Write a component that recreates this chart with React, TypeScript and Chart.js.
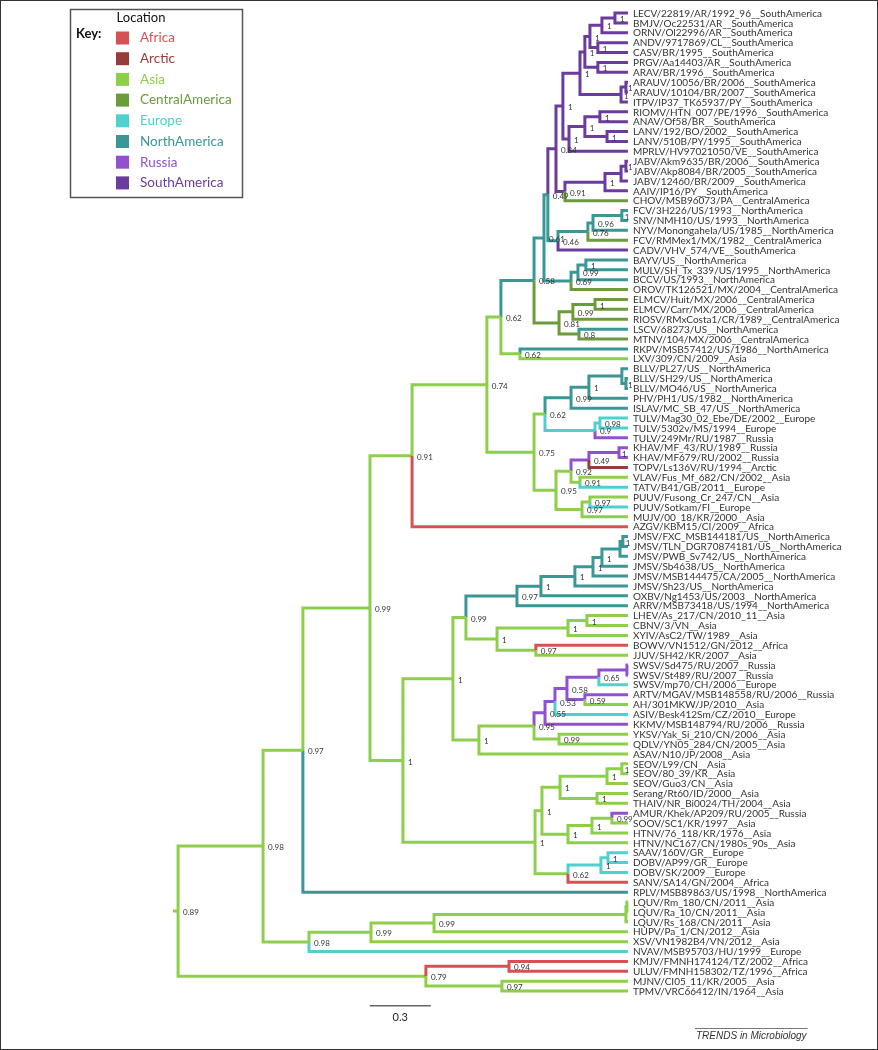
import React, { useEffect, useRef } from "react";
import { Chart, registerables } from "chart.js";
Chart.register(...registerables);

// Regions (legend) and their colours
const regions = ["Africa", "Arctic", "Asia", "CentralAmerica", "Europe", "NorthAmerica", "Russia", "SouthAmerica"];
const regionColors = ["#d65252", "#9a3b3b", "#8dcf4b", "#6b9b3b", "#4fcfcf", "#3b9696", "#9150d0", "#6b3b9e"];

// Tip labels, top to bottom (region after "__")
const leafNames = [
  "LECV/22819/AR/1992_96__SouthAmerica",
  "BMJV/Oc22531/AR__SouthAmerica",
  "ORNV/Ol22996/AR__SouthAmerica",
  "ANDV/9717869/CL__SouthAmerica",
  "CASV/BR/1995__SouthAmerica",
  "PRGV/Aa14403/AR__SouthAmerica",
  "ARAV/BR/1996__SouthAmerica",
  "ARAUV/10056/BR/2006__SouthAmerica",
  "ARAUV/10104/BR/2007__SouthAmerica",
  "ITPV/IP37_TK65937/PY__SouthAmerica",
  "RIOMV/HTN_007/PE/1996__SouthAmerica",
  "ANAV/Of58/BR__SouthAmerica",
  "LANV/192/BO/2002__SouthAmerica",
  "LANV/510B/PY/1995__SouthAmerica",
  "MPRLV/HV97021050/VE__SouthAmerica",
  "JABV/Akm9635/BR/2006__SouthAmerica",
  "JABV/Akp8084/BR/2005__SouthAmerica",
  "JABV/12460/BR/2009__SouthAmerica",
  "AAIV/IP16/PY__SouthAmerica",
  "CHOV/MSB96073/PA__CentralAmerica",
  "FCV/3H226/US/1993__NorthAmerica",
  "SNV/NMH10/US/1993__NorthAmerica",
  "NYV/Monongahela/US/1985__NorthAmerica",
  "FCV/RMMex1/MX/1982__CentralAmerica",
  "CADV/VHV_574/VE__SouthAmerica",
  "BAYV/US__NorthAmerica",
  "MULV/SH_Tx_339/US/1995__NorthAmerica",
  "BCCV/US/1993__NorthAmerica",
  "OROV/TK126521/MX/2004__CentralAmerica",
  "ELMCV/Huit/MX/2006__CentralAmerica",
  "ELMCV/Carr/MX/2006__CentralAmerica",
  "RIOSV/RMxCosta1/CR/1989__CentralAmerica",
  "LSCV/68273/US__NorthAmerica",
  "MTNV/104/MX/2006__CentralAmerica",
  "RKPV/MSB57412/US/1986__NorthAmerica",
  "LXV/309/CN/2009__Asia",
  "BLLV/PL27/US__NorthAmerica",
  "BLLV/SH29/US__NorthAmerica",
  "BLLV/MO46/US__NorthAmerica",
  "PHV/PH1/US/1982__NorthAmerica",
  "ISLAV/MC_SB_47/US__NorthAmerica",
  "TULV/Mag30_02_Ebe/DE/2002__Europe",
  "TULV/5302v/MS/1994__Europe",
  "TULV/249Mr/RU/1987__Russia",
  "KHAV/MF_43/RU/1989__Russia",
  "KHAV/MF679/RU/2002__Russia",
  "TOPV/Ls136V/RU/1994__Arctic",
  "VLAV/Fus_Mf_682/CN/2002__Asia",
  "TATV/B41/GB/2011__Europe",
  "PUUV/Fusong_Cr_247/CN__Asia",
  "PUUV/Sotkam/FI__Europe",
  "MUJV/00_18/KR/2000__Asia",
  "AZGV/KBM15/CI/2009__Africa",
  "JMSV/FXC_MSB144181/US__NorthAmerica",
  "JMSV/TLN_DGR70874181/US__NorthAmerica",
  "JMSV/PWB_Sv742/US__NorthAmerica",
  "JMSV/Sb4638/US__NorthAmerica",
  "JMSV/MSB144475/CA/2005__NorthAmerica",
  "JMSV/Sh23/US__NorthAmerica",
  "OXBV/Ng1453/US/2003__NorthAmerica",
  "ARRV/MSB73418/US/1994__NorthAmerica",
  "LHEV/As_217/CN/2010_11__Asia",
  "CBNV/3/VN__Asia",
  "XYIV/AsC2/TW/1989__Asia",
  "BOWV/VN1512/GN/2012__Africa",
  "JJUV/SH42/KR/2007__Asia",
  "SWSV/Sd475/RU/2007__Russia",
  "SWSV/St489/RU/2007__Russia",
  "SWSV/mp70/CH/2006__Europe",
  "ARTV/MGAV/MSB148558/RU/2006__Russia",
  "AH/301MKW/JP/2010__Asia",
  "ASIV/Besk412Sm/CZ/2010__Europe",
  "KKMV/MSB148794/RU/2006__Russia",
  "YKSV/Yak_Si_210/CN/2006__Asia",
  "QDLV/YN05_284/CN/2005__Asia",
  "ASAV/N10/JP/2008__Asia",
  "SEOV/L99/CN__Asia",
  "SEOV/80_39/KR__Asia",
  "SEOV/Guo3/CN__Asia",
  "Serang/Rt60/ID/2000__Asia",
  "THAIV/NR_Bi0024/TH/2004__Asia",
  "AMUR/Khek/AP209/RU/2005__Russia",
  "SOOV/SC1/KR/1997__Asia",
  "HTNV/76_118/KR/1976__Asia",
  "HTNV/NC167/CN/1980s_90s__Asia",
  "SAAV/160V/GR__Europe",
  "DOBV/AP99/GR__Europe",
  "DOBV/SK/2009__Europe",
  "SANV/SA14/GN/2004__Africa",
  "RPLV/MSB89863/US/1998__NorthAmerica",
  "LQUV/Rm_180/CN/2011__Asia",
  "LQUV/Ra_10/CN/2011__Asia",
  "LQUV/Rs_168/CN/2011__Asia",
  "HUPV/Pa_1/CN/2012__Asia",
  "XSV/VN1982B4/VN/2012__Asia",
  "NVAV/MSB95703/HU/1999__Europe",
  "KMJV/FMNH174124/TZ/2002__Africa",
  "ULUV/FMNH158302/TZ/1996__Africa",
  "MJNV/CI05_11/KR/2005__Asia",
  "TPMV/VRC66412/IN/1964__Asia",
];

// Internal nodes: [id, child 1, child 2, height above tips (subst./site), posterior support, inferred location]
// numeric children are tip indexes
type Kid = string | number;
const nodes: [string, Kid, Kid, number, string, string][] = [
  ["S1", 0, 1, 0.064, "1", "SouthAmerica"],
  ["S2", "S1", 2, 0.128, "1", "SouthAmerica"],
  ["S3", 3, 4, 0.148, "1", "SouthAmerica"],
  ["S4", "S2", "S3", 0.187, "1", "SouthAmerica"],
  ["S5", 5, 6, 0.148, "1", "SouthAmerica"],
  ["S6", "S4", "S5", 0.212, "1", "SouthAmerica"],
  ["S7", 7, 8, 0.01, "1", "SouthAmerica"],
  ["S8", "S7", 9, 0.034, "1", "SouthAmerica"],
  ["S9", "S6", "S8", 0.236, "1", "SouthAmerica"],
  ["S10", 10, 11, 0.138, "1", "SouthAmerica"],
  ["S11", 12, 13, 0.103, "1", "SouthAmerica"],
  ["S12", "S10", "S11", 0.212, "1", "SouthAmerica"],
  ["S13", "S12", 14, 0.29, "1", "SouthAmerica"],
  ["S14", "S9", "S13", 0.32, "1", "SouthAmerica"],
  ["J1", 15, 16, 0.01, "1", "SouthAmerica"],
  ["J2", "J1", 17, 0.034, "", "SouthAmerica"],
  ["J3", "J2", 18, 0.113, "1", "SouthAmerica"],
  ["N91", "J3", 19, 0.31, "0.91", "SouthAmerica"],
  ["N84", "S14", "N91", 0.354, "0.84", "SouthAmerica"],
  ["F1", 20, 21, 0.03, "1", "NorthAmerica"],
  ["N96", "F1", 22, 0.172, "0.96", "NorthAmerica"],
  ["N76", "N96", 23, 0.197, "0.76", "NorthAmerica"],
  ["N46", "N76", 24, 0.344, "0.46", "NorthAmerica"],
  ["N49", "N84", "N46", 0.394, "0.49", "NorthAmerica"],
  ["B1", 25, 26, 0.207, "1", "NorthAmerica"],
  ["N99b", "B1", 27, 0.246, "0.99", "NorthAmerica"],
  ["N69", "N99b", 28, 0.28, "0.69", "NorthAmerica"],
  ["N61", "N49", "N69", 0.413, "0.61", "NorthAmerica"],
  ["E1", 29, 30, 0.162, "1", "CentralAmerica"],
  ["N99c", "E1", 31, 0.271, "0.99", "CentralAmerica"],
  ["N80", 32, 33, 0.241, "0.8", "CentralAmerica"],
  ["N81", "N99c", "N80", 0.339, "0.81", "CentralAmerica"],
  ["N58", "N61", "N81", 0.462, "0.58", "NorthAmerica"],
  ["N62b", 34, 35, 0.531, "0.62", "Asia"],
  ["N62a", "N58", "N62b", 0.625, "0.62", "Asia"],
  ["BC", 37, 38, 0.01, "1", "NorthAmerica"],
  ["BB", 36, "BC", 0.03, "", "NorthAmerica"],
  ["BA", "BB", 39, 0.192, "1", "NorthAmerica"],
  ["AY", "BA", 40, 0.28, "0.99", "NorthAmerica"],
  ["BD", 41, 42, 0.138, "0.98", "Europe"],
  ["AZ", "BD", 43, 0.162, "0.9", "Europe"],
  ["AW", "AY", "AZ", 0.408, "0.62", "Asia"],
  ["BI", 44, 45, 0.044, "1", "Russia"],
  ["BG", "BI", 46, 0.192, "0.49", "Russia"],
  ["BH", 47, 48, 0.236, "0.91", "Asia"],
  ["BE", "BG", "BH", 0.28, "0.92", "Asia"],
  ["PU", 49, 50, 0.187, "0.97", "Asia"],
  ["BF", "PU", 51, 0.226, "0.97", "Asia"],
  ["AX", "BE", "BF", 0.354, "0.95", "Asia"],
  ["AT", "AW", "AX", 0.462, "0.75", "Asia"],
  ["AR", "N62a", "AT", 0.694, "0.74", "Asia"],
  ["G", "AR", 52, 1.062, "0.91", "Asia"],
  ["JM1", 53, 54, 0.025, "1", "NorthAmerica"],
  ["JM2", "JM1", 55, 0.039, "", "NorthAmerica"],
  ["JM3", "JM2", 56, 0.128, "1", "NorthAmerica"],
  ["JM4", "JM3", 57, 0.172, "1", "NorthAmerica"],
  ["JM5", "JM4", 58, 0.261, "1", "NorthAmerica"],
  ["JM6", "JM5", 59, 0.428, "1", "NorthAmerica"],
  ["X", "JM6", 60, 0.546, "0.97", "NorthAmerica"],
  ["AI", 61, 62, 0.202, "1", "Asia"],
  ["AG", "AI", 63, 0.295, "1", "Asia"],
  ["AH", 64, 65, 0.453, "0.97", "Asia"],
  ["Y", "AG", "AH", 0.644, "1", "Asia"],
  ["W", "X", "Y", 0.797, "0.99", "Asia"],
  ["SW1", 66, 67, 0.005, "", "Russia"],
  ["AN", "SW1", 68, 0.143, "0.65", "Russia"],
  ["AP", 69, 70, 0.212, "0.59", "Russia"],
  ["AO", "AN", "AP", 0.3, "0.58", "Russia"],
  ["Q53", "AO", 71, 0.359, "0.53", "Russia"],
  ["Q55", "Q53", 72, 0.408, "0.55", "Russia"],
  ["AL", 73, 74, 0.339, "0.99", "Asia"],
  ["AJ", "Q55", "AL", 0.462, "0.95", "Asia"],
  ["V", "AJ", 75, 0.733, "1", "Asia"],
  ["U", "W", "V", 0.861, "1", "Asia"],
  ["SE1", 76, 77, 0.03, "1", "Asia"],
  ["SE2", "SE1", 78, 0.103, "1", "Asia"],
  ["P", 79, 80, 0.152, "1", "Asia"],
  ["M", "SE2", "P", 0.334, "1", "Asia"],
  ["R", 81, 82, 0.079, "0.99", "Asia"],
  ["Qn", "R", 83, 0.177, "1", "Asia"],
  ["Nn", "Qn", 84, 0.295, "1", "Asia"],
  ["K", "M", "Nn", 0.423, "1", "Asia"],
  ["T", 85, 86, 0.098, "1", "Europe"],
  ["S", "T", 87, 0.133, "1", "Europe"],
  ["L", "S", 88, 0.295, "0.62", "Asia"],
  ["J", "K", "L", 0.457, "1", "Asia"],
  ["H", "U", "J", 1.107, "1", "Asia"],
  ["F", "G", "H", 1.269, "0.99", "Asia"],
  ["B", "F", 89, 1.599, "0.97", "Asia"],
  ["LQ1", 90, 91, 0.005, "", "Asia"],
  ["LQ2", "LQ1", 92, 0.01, "", "Asia"],
  ["E", "LQ2", 93, 0.954, "0.99", "Asia"],
  ["D", "E", 94, 1.264, "0.99", "Asia"],
  ["C", "D", 95, 1.569, "0.98", "Asia"],
  ["A", "B", "C", 1.795, "0.98", "Asia"],
  ["KU", 96, 97, 0.585, "0.94", "Africa"],
  ["MT", 98, 99, 0.62, "0.97", "Asia"],
  ["N79", "KU", "MT", 0.994, "0.79", "Asia"],
  ["ROOT", "A", "N79", 2.213, "0.89", "Asia"],
];
const rootBranch = 0.025;
const scaleBarLength = 0.3;
const scaleBarStart = 1.27;
const creditText = "TRENDS in Microbiology";

// ---- derived tree geometry (from data) ----
const nodeMap: Record<string, [string, Kid, Kid, number, string, string]> = {};
nodes.forEach((n) => (nodeMap[n[0]] = n));
const yCache: Record<string, number> = {};
function kidY(k: Kid): number {
  if (typeof k === "number") return k;
  if (yCache[k] !== undefined) return yCache[k];
  const n = nodeMap[k];
  const v = (kidY(n[1]) + kidY(n[2])) / 2;
  yCache[k] = v;
  return v;
}
function kidH(k: Kid): number {
  return typeof k === "number" ? 0 : nodeMap[k][3];
}
function kidRegion(k: Kid): string {
  return typeof k === "number" ? leafNames[k].split("__")[1] : nodeMap[k][5];
}

function buildSegments() {
  const segs: Record<string, { x: number; y: number }[]> = {};
  regions.forEach((r) => (segs[r] = []));
  const gap = { x: NaN, y: NaN };
  nodes.forEach((n) => {
    const ny = kidY(n[0]);
    [n[1], n[2]].forEach((c) => {
      const cy = kidY(c);
      segs[kidRegion(c)].push({ x: n[3], y: ny }, { x: n[3], y: cy }, { x: kidH(c), y: cy }, gap);
    });
  });
  const root = nodeMap["ROOT"];
  segs[root[5]].push({ x: root[3] + rootBranch, y: kidY("ROOT") }, { x: root[3], y: kidY("ROOT") }, gap);
  return segs;
}

const INK = "#333";

const treeTextPlugin = {
  id: "treeText",
  afterDatasetsDraw(chart: any) {
    const ctx: CanvasRenderingContext2D = chart.ctx;
    const xs = chart.scales.x;
    const ys = chart.scales.y;
    ctx.save();
    // frame
    ctx.strokeStyle = "#333";
    ctx.lineWidth = 1;
    ctx.strokeRect(0.5, 0.5, chart.width - 1, chart.height - 1);

    // tip labels
    ctx.textBaseline = "middle";
    ctx.textAlign = "left";
    ctx.fillStyle = INK;
    ctx.font = "10px Lato";
    leafNames.forEach((name, i) => {
      ctx.fillText(name, xs.getPixelForValue(0) + 5, ys.getPixelForValue(i) + 0.5);
    });

    // support values
    ctx.font = "8px Lato";
    ctx.fillStyle = "#333";
    nodes.forEach((n) => {
      if (!n[4]) return;
      const px = xs.getPixelForValue(n[3]);
      const off = n[3] < 0.02 ? 2 : n[3] < 0.05 ? 3 : 5;
      ctx.fillText(n[4], px + off, ys.getPixelForValue(kidY(n[0])) + 1.5);
    });

    // scale bar
    const sbY = ys.getPixelForValue(100.5);
    const x1 = xs.getPixelForValue(scaleBarStart);
    const x2 = xs.getPixelForValue(scaleBarStart - scaleBarLength);
    ctx.strokeStyle = "#666";
    ctx.lineWidth = 1.5;
    ctx.beginPath();
    ctx.moveTo(x1, sbY);
    ctx.lineTo(x2, sbY);
    ctx.stroke();
    ctx.fillStyle = "#222";
    ctx.font = "11px Lato";
    ctx.textAlign = "center";
    ctx.fillText(String(scaleBarLength), (x1 + x2) / 2, sbY + 12);

    // credit
    ctx.font = "italic 10px 'Liberation Sans'";
    ctx.textAlign = "left";
    ctx.fillStyle = "#333";
    const cw = ctx.measureText(creditText).width;
    ctx.fillText(creditText, 696, 1036);
    ctx.strokeStyle = "#777";
    ctx.lineWidth = 1;
    ctx.beginPath();
    ctx.moveTo(695, 1028.5);
    ctx.lineTo(697 + cw, 1028.5);
    ctx.stroke();

    // legend box
    ctx.strokeStyle = "#555";
    ctx.lineWidth = 1.5;
    ctx.strokeRect(70.5, 9.5, 172, 188);
    ctx.fillStyle = "#111";
    ctx.font = "13px Lato";
    ctx.textAlign = "center";
    ctx.fillText("Location", 141, 18);
    ctx.textAlign = "left";
    ctx.font = "bold 13px Lato";
    ctx.fillText("Key:", 76, 34);
    ctx.font = "13.5px Lato";
    regions.forEach((r, i) => {
      const cy = 38 + i * 20.7;
      ctx.fillStyle = regionColors[i];
      ctx.fillRect(116, cy - 6.5, 13, 13);
      ctx.fillText(r, 140, cy);
    });
    ctx.restore();
  },
};

export default function App() {
  const ref = useRef<HTMLCanvasElement>(null);
  useEffect(() => {
    const segs = buildSegments();
    const chart = new Chart(ref.current as HTMLCanvasElement, {
      type: "scatter",
      data: {
        datasets: regions.map((r, i) => ({
          label: r,
          data: segs[r],
          showLine: true,
          borderColor: regionColors[i],
          backgroundColor: regionColors[i],
          borderWidth: 3,
          pointRadius: 0,
          pointHoverRadius: 0,
          spanGaps: false,
          tension: 0,
          borderJoinStyle: "miter",
          borderCapStyle: "butt",
          clip: false,
        })) as any,
      },
      options: {
        animation: false,
        responsive: false,
        events: [],
        layout: { padding: 0 },
        plugins: { legend: { display: false }, tooltip: { enabled: false } },
        scales: {
          x: { type: "linear", reverse: true, min: -1.23, max: 3.089, display: false },
          y: { type: "linear", reverse: true, min: -1.316, max: 104.97, display: false },
        },
      } as any,
      plugins: [treeTextPlugin],
    });
    return () => chart.destroy();
  }, []);
  return (
    <div style={{ position: "absolute", left: 0, top: 0, width: 878, height: 1050, background: "#fff" }}>
      <canvas ref={ref} width={878} height={1050} style={{ display: "block" }} />
    </div>
  );
}
